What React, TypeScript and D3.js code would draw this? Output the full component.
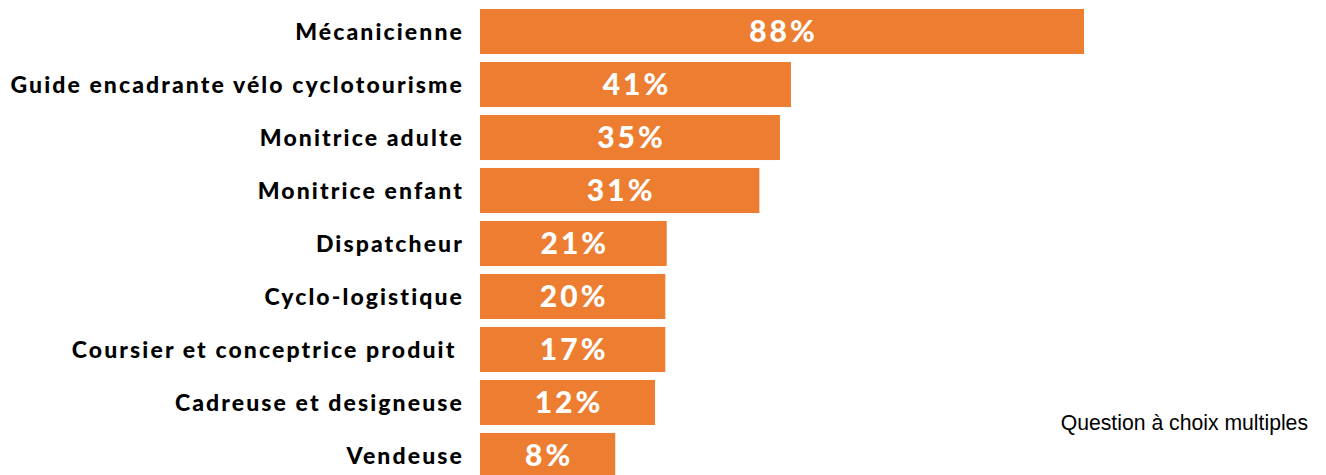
import React, { useLayoutEffect, useRef } from 'react';
import * as d3 from 'd3';

// categories, top to bottom
const categories = [
  'Mécanicienne',
  'Guide encadrante vélo cyclotourisme',
  'Monitrice adulte',
  'Monitrice enfant',
  'Dispatcheur',
  'Cyclo-logistique',
  'Coursier et conceptrice produit ',
  'Cadreuse et designeuse',
  'Vendeuse',
];

// percentages printed in the bars
const percentLabels = ['88%', '41%', '35%', '31%', '21%', '20%', '17%', '12%', '8%'];

// bar lengths as drawn in the source (not proportional to the labels)
const barLengths = [88, 45.3, 43.7, 40.7, 27.2, 27, 27, 25.5, 19.7];

const note = 'Question à choix multiples';

const width = 1326;
const height = 475;
const barLeft = 480;
const labelRight = 464;
const orange = '#ed7d31';

const drawChart = (container: HTMLDivElement) => {
  d3.select(container).selectAll('*').remove();
  const svg = d3
    .select(container)
    .append('svg')
    .attr('width', width)
    .attr('height', height)
    .style('position', 'absolute')
    .style('left', 0)
    .style('top', 0)
    .style('background', '#fff');

  const xScale = d3
    .scaleLinear()
    .domain([0, d3.max(barLengths) || 100])
    .range([barLeft, 1084]);

  const yScale = d3
    .scaleBand<string>()
    .domain(categories)
    .range([9, 478])
    .paddingInner(0.15)
    .paddingOuter(0)
    .align(0);

  const rows = svg
    .append('g')
    .selectAll('g.row')
    .data(categories)
    .enter()
    .append('g')
    .classed('row', true);

  rows
    .append('rect')
    .attr('x', xScale(0))
    .attr('y', (d) => yScale(d) || 0)
    .attr('width', (_d, i) => xScale(barLengths[i]) - xScale(0))
    .attr('height', yScale.bandwidth())
    .attr('fill', orange);

  rows
    .append('text')
    .attr('x', labelRight)
    .attr('y', (d) => (yScale(d) || 0) + yScale.bandwidth() / 2)
    .attr('dy', '0.35em')
    .attr('text-anchor', 'end')
    .style('white-space', 'pre')
    .attr('font-family', 'Lato, sans-serif')
    .attr('font-weight', 900)
    .attr('font-size', 23)
    .attr('letter-spacing', 2.1)
    .attr('fill', '#000')
    .text((d) => d);

  rows
    .append('text')
    .attr('x', (_d, i) => (xScale(0) + xScale(barLengths[i])) / 2 + 1.5)
    .attr('y', (d) => (yScale(d) || 0) + yScale.bandwidth() / 2 + 10.5)
    .attr('text-anchor', 'middle')
    .attr('font-family', 'Lato, sans-serif')
    .attr('font-weight', 900)
    .attr('font-size', 30)
    .attr('letter-spacing', 3)
    .attr('fill', '#fff')
    .text((_d, i) => percentLabels[i]);

  svg
    .append('text')
    .attr('x', 1308)
    .attr('y', 430)
    .attr('text-anchor', 'end')
    .attr('font-family', '"Liberation Sans", Arial, sans-serif')
    .attr('font-size', 21.2)
    .attr('fill', '#000')
    .text(note);
};

const App: React.FC = () => {
  const rootEl = useRef<HTMLDivElement>(null);

  useLayoutEffect(() => {
    if (rootEl.current) drawChart(rootEl.current);
  }, []);

  return <div ref={rootEl} />;
};

export default App;
